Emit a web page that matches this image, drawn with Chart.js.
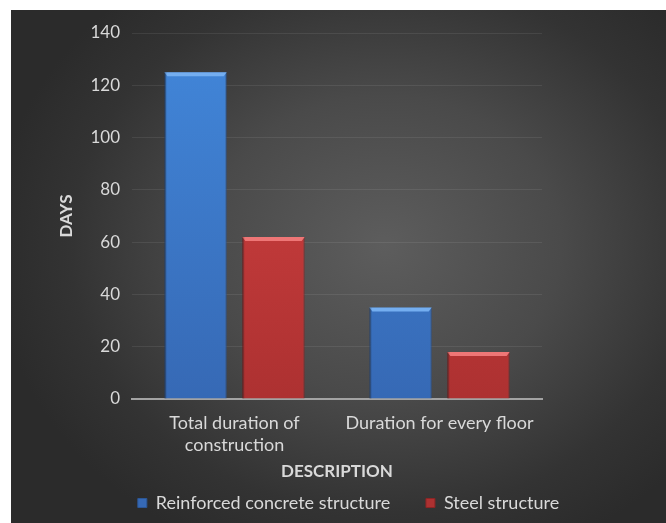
<!DOCTYPE html>
<html>
<head>
<meta charset="utf-8">
<script src="https://cdn.jsdelivr.net/npm/chart.js@4.4.1/dist/chart.umd.min.js"></script>
<style>
  html, body { margin: 0; padding: 0; background: #ffffff; overflow: hidden; }
  #wrap {
    position: absolute; left: 11px; top: 10px; width: 655px; height: 513px;
    background: radial-gradient(ellipse 60% 65% at 57% 46%, #5d5d5d 0%, #4a4a4a 45%, #333333 80%, #2b2b2b 100%);
  }
</style>
</head>
<body>
<div id="wrap"><canvas id="chart" width="655" height="513"></canvas></div>
<script>
/* ---------- data ---------- */
const categories = [["Total duration of", "construction"], "Duration for every floor"];
const seriesNames = ["Reinforced concrete structure", "Steel structure"];
const concreteDays = [125, 35];
const steelDays = [62, 18];
const yTicks = [0, 20, 40, 60, 80, 100, 120, 140];

const TEXT = "#d9d9d9";
const FONT = "Lato";

// vertical gradient for a bar colour, built on the chart area
function barFill(top, bottom){
  return function(ctx){
    const area = ctx.chart.chartArea;
    if(!area) return top;
    const g = ctx.chart.ctx.createLinearGradient(0, area.top, 0, area.bottom);
    g.addColorStop(0, top);
    g.addColorStop(1, bottom);
    return g;
  };
}

/* light bevel strip along the top of each bar */
const bevel = {
  id: "bevel",
  afterDatasetsDraw(chart){
    const c = chart.ctx;
    chart.data.datasets.forEach((ds, i) => {
      const meta = chart.getDatasetMeta(i);
      meta.data.forEach(bar => {
        const l = bar.x - bar.width / 2, r = bar.x + bar.width / 2, t = bar.y;
        c.save();
        c.fillStyle = ds.bevelColor;
        c.beginPath();
        c.moveTo(l, t);
        c.lineTo(r, t);
        c.lineTo(r - 3, t + 4);
        c.lineTo(l + 3, t + 4);
        c.closePath();
        c.fill();
        c.fillStyle = "rgba(0,0,0,0.18)";
        c.fillRect(l, t, 2, bar.base - t);
        c.restore();
      });
    });
  }
};

new Chart(document.getElementById("chart"), {
  type: "bar",
  data: {
    labels: categories,
    datasets: [{
      label: seriesNames[0] + "      ",
      data: concreteDays,
      backgroundColor: barFill("#4287da", "#3669b5"),
      borderColor: "#2c5796",
      borderWidth: 1,
      bevelColor: "#74aef0",
      categoryPercentage: 0.76,
      barPercentage: 0.8
    }, {
      label: seriesNames[1],
      data: steelDays,
      backgroundColor: barFill("#d64343", "#ad3131"),
      borderColor: "#8c2525",
      borderWidth: 1,
      bevelColor: "#ee7676",
      categoryPercentage: 0.76,
      barPercentage: 0.8
    }]
  },
  options: {
    responsive: false,
    animation: false,
    layout: { padding: { top: 23, right: 0, bottom: 1, left: 20 } },
    plugins: {
      tooltip: { enabled: false },
      legend: {
        position: "bottom",
        labels: {
          color: TEXT,
          font: { family: FONT, size: 18 },
          boxWidth: 9,
          boxHeight: 9,
          padding: 8
        }
      }
    },
    scales: {
      x: {
        afterFit(s){ s.height = 87; },
        grid: { display: false, drawTicks: false },
        border: { display: true, color: "#a3a3a3", width: 2 },
        ticks: { color: TEXT, font: { family: FONT, size: 18, lineHeight: 1.22 }, padding: 13, maxRotation: 0 },
        title: { display: true, text: "DESCRIPTION", color: TEXT, font: { family: FONT, size: 17, weight: "bold" }, padding: { top: 0, bottom: 4 } }
      },
      y: {
        min: 0,
        max: 140,
        afterFit(s){ s.width = 101; },
        afterBuildTicks(s){ s.ticks = yTicks.map(v => ({ value: v })); },
        grid: { color: "rgba(255,255,255,0.08)", drawTicks: false },
        border: { display: false },
        ticks: { color: TEXT, font: { family: FONT, size: 17 }, padding: 12 },
        title: { display: true, text: "DAYS", color: TEXT, font: { family: FONT, size: 17, weight: "bold" }, padding: { top: 25 } }
      },
      // empty space on the right of the plot
      yRight: {
        position: "right",
        afterFit(s){ s.width = 124; },
        grid: { display: false, drawTicks: false },
        border: { display: false },
        ticks: { display: false }
      }
    }
  },
  plugins: [bevel]
});
</script>
</body>
</html>
